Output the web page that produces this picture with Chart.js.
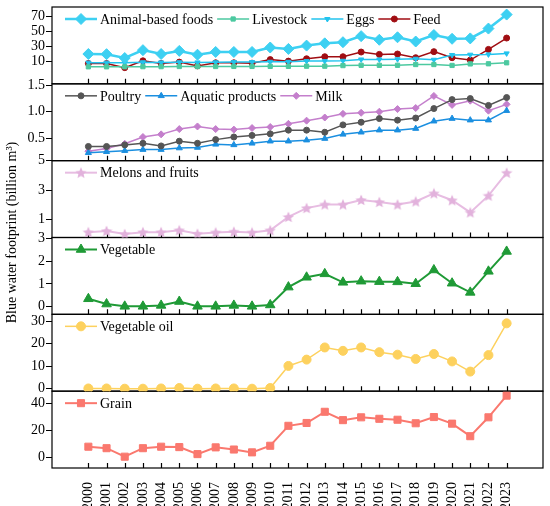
<!DOCTYPE html>
<html>
<head>
<meta charset="utf-8">
<script src="https://cdn.jsdelivr.net/npm/chart.js@4.4.1/dist/chart.umd.min.js"></script>
<style>
  html, body { margin: 0; padding: 0; background: #fff; }
  #wrap { width: 550px; height: 506px; position: relative; }
</style>
</head>
<body>
<div id="wrap"><canvas id="chart"></canvas></div>
<script>
// x categories
const years = [2000, 2001, 2002, 2003, 2004, 2005, 2006, 2007, 2008, 2009, 2010, 2011,
               2012, 2013, 2014, 2015, 2016, 2017, 2018, 2019, 2020, 2021, 2022, 2023];

// panel 1
const animalFoods = [19.9, 19.7, 14.6, 25.0, 19.9, 24.0, 19.0, 22.6, 22.6, 22.6, 28.5, 26.6,
                     31.0, 34.0, 35.5, 43.5, 38.7, 42.0, 36.4, 45.0, 40.0, 40.5, 53.5, 72.0];
const livestock = [3.0, 3.0, 3.0, 3.2, 3.2, 3.4, 3.3, 3.4, 3.5, 3.5, 3.6, 3.6,
                   3.8, 3.8, 4.6, 5.0, 5.0, 5.0, 6.0, 6.0, 4.8, 6.8, 7.0, 8.3];
const eggs = [8.5, 8.5, 8.2, 9.0, 8.8, 9.0, 8.8, 9.0, 9.2, 9.3, 9.6, 9.6,
              10.5, 10.5, 11.0, 12.7, 12.7, 13.0, 13.6, 12.3, 18.6, 19.0, 19.4, 20.7];
const feed = [7.3, 7.3, 1.9, 10.9, 7.3, 9.2, 4.2, 8.3, 8.3, 7.8, 12.5, 10.5,
              13.6, 16.3, 16.3, 22.5, 19.4, 19.9, 15.0, 23.0, 15.0, 11.9, 26.0, 41.0];

// panel 2
const poultry = [0.34, 0.34, 0.37, 0.40, 0.35, 0.44, 0.40, 0.47, 0.52, 0.55, 0.58, 0.65,
                 0.65, 0.61, 0.75, 0.80, 0.87, 0.84, 0.88, 1.06, 1.23, 1.25, 1.12, 1.27];
const aquatic = [0.22, 0.24, 0.26, 0.28, 0.28, 0.31, 0.32, 0.38, 0.37, 0.40, 0.44, 0.44,
                 0.46, 0.49, 0.57, 0.61, 0.65, 0.65, 0.68, 0.82, 0.87, 0.84, 0.84, 1.02];
const milk = [0.25, 0.30, 0.39, 0.52, 0.57, 0.67, 0.72, 0.67, 0.66, 0.69, 0.71, 0.77,
              0.83, 0.89, 0.96, 0.98, 1.00, 1.05, 1.07, 1.30, 1.13, 1.21, 1.02, 1.14];

// panels 3-6
const melons = [0.16, 0.24, 0.03, 0.16, 0.16, 0.29, 0.05, 0.14, 0.19, 0.14, 0.29, 1.19,
                1.79, 2.03, 2.03, 2.34, 2.20, 2.03, 2.24, 2.79, 2.32, 1.50, 2.63, 4.18];
const vegetable = [0.35, 0.12, 0.02, 0.02, 0.06, 0.23, 0.02, 0.02, 0.06, 0.02, 0.08, 0.86,
                   1.29, 1.44, 1.07, 1.12, 1.10, 1.09, 1.01, 1.61, 1.03, 0.63, 1.55, 2.42];
const vegOil = [0.1, 0.1, 0.0, 0.0, 0.1, 0.3, 0.0, 0.1, 0.1, 0.0, 0.3, 10.1,
                12.9, 18.3, 16.8, 18.3, 16.2, 15.1, 13.2, 15.4, 12.1, 7.6, 14.9, 29.0];
const grain = [8.1, 7.0, 0.7, 7.0, 8.1, 7.8, 2.6, 7.6, 6.0, 3.9, 8.8, 23.6,
               25.7, 34.0, 27.8, 29.9, 28.8, 28.1, 25.5, 30.1, 25.2, 15.9, 29.9, 46.0];

// tick labels per panel
const ticksAnimal = [10, 30, 50, 70];
const ticksPoultry = [0.5, 1.0, 1.5];
const ticksMelons = [1, 3, 5];
const ticksVegetable = [0, 1, 2, 3];
const ticksOil = [0, 10, 20, 30];
const ticksGrain = [0, 20, 40];

const yTitle = 'Blue water footprint (billion m\u00b3)';

Chart.defaults.font.family = "'Liberation Serif', 'Times New Roman', serif";
Chart.defaults.font.size = 14;
Chart.defaults.color = '#000';

// filled five-point star marker
function starMarker(color, size) {
    const c = document.createElement('canvas');
    c.width = size; c.height = size;
    const g = c.getContext('2d');
    const r = size / 2, ri = r * 0.45;
    g.fillStyle = color;
    g.beginPath();
    for (let i = 0; i < 10; i++) {
        const a = -Math.PI / 2 + i * Math.PI / 5;
        const rr = i % 2 ? ri : r;
        g.lineTo(r + rr * Math.cos(a), r + rr * Math.sin(a) + 0.5);
    }
    g.closePath();
    g.fill();
    return c;
}

function series(label, values, axis, color, style, radius, width, rotation) {
    return {
        label: label,
        data: values.map((v, i) => ({ x: years[i], y: v })),
        yAxisID: axis,
        borderColor: color,
        backgroundColor: color,
        pointBackgroundColor: color,
        pointBorderColor: color,
        pointBorderWidth: 1,
        borderWidth: width,
        pointStyle: style,
        pointRadius: radius,
        pointRotation: rotation || 0,
        tension: 0
    };
}

// panels from top to bottom
const panels = ['yA', 'yP', 'yM', 'yV', 'yO', 'yG'];

function yScale(min, max, tickList, decimals) {
    return {
        type: 'linear',
        position: 'left',
        stack: 'panels',
        stackWeight: 1,
        min: min,
        max: max,
        border: { display: false },
        grid: { drawOnChartArea: false, tickLength: 6, color: '#000', lineWidth: 1 },
        ticks: {
            autoSkip: false,
            padding: 1,
            callback: v => decimals ? Number(v).toFixed(decimals) : String(v)
        },
        afterBuildTicks: s => { s.ticks = tickList.map(v => ({ value: v })); },
        afterFit: s => { s.width = 52; s.paddingTop = 0; s.paddingBottom = 0; }
    };
}

const panelDecor = {
    id: 'panelDecor',
    beforeDatasetsDraw(chart) {
        const ctx = chart.ctx, area = chart.chartArea, xs = chart.scales.x;
        ctx.save();
        ctx.strokeStyle = '#000';
        ctx.lineWidth = 1.2;
        panels.forEach(id => {
            const s = chart.scales[id];
            ctx.strokeRect(area.left, s.top, area.right - area.left, s.bottom - s.top);
            ctx.beginPath();
            years.forEach(yr => {
                const px = Math.round(xs.getPixelForValue(yr)) + 0.5;
                ctx.moveTo(px, s.bottom);
                ctx.lineTo(px, s.bottom - 5);
            });
            ctx.stroke();
        });
        ctx.restore();
    },
    afterDatasetsDraw(chart) {
        const ctx = chart.ctx, area = chart.chartArea;
        ctx.save();
        ctx.font = "14px 'Liberation Serif', 'Times New Roman', serif";
        ctx.textBaseline = 'middle';
        ctx.textAlign = 'left';
        panels.forEach(id => {
            const s = chart.scales[id];
            let x = area.left + 13;
            const y = s.top + 12;
            chart.data.datasets.filter(ds => ds.yAxisID === id).forEach(ds => {
                ctx.strokeStyle = ds.borderColor;
                ctx.lineWidth = ds.borderWidth;
                ctx.beginPath();
                ctx.moveTo(x, y);
                ctx.lineTo(x + 32, y);
                ctx.stroke();
                ctx.fillStyle = ds.pointBackgroundColor;
                ctx.lineWidth = ds.pointBorderWidth;
                Chart.helpers.drawPoint(ctx, {
                    pointStyle: ds.pointStyle,
                    radius: ds.pointRadius,
                    rotation: ds.pointRotation,
                    borderWidth: ds.pointBorderWidth
                }, x + 16, y);
                ctx.fillStyle = '#000';
                ctx.fillText(ds.label, x + 35, y + 1);
                x += 35 + ctx.measureText(ds.label).width + 4;
            });
        });
        // shared y title
        ctx.translate(12, (area.top + area.bottom) / 2 - 5);
        ctx.rotate(-Math.PI / 2);
        ctx.textAlign = 'center';
        ctx.fillStyle = '#000';
        ctx.fillText(yTitle, 0, 0);
        ctx.restore();
    }
};

new Chart(document.getElementById('chart'), {
    type: 'line',
    data: {
        datasets: [
            series('Animal-based foods', animalFoods, 'yA', '#3dd0f2', 'rectRot', 5.5, 2.5),
            series('Livestock', livestock, 'yA', '#4cc9a0', 'rect', 3, 1.5),
            series('Eggs', eggs, 'yA', '#22c3ee', 'triangle', 3, 1.5, 180),
            series('Feed', feed, 'yA', '#a00d12', 'circle', 3, 1.5),
            series('Poultry', poultry, 'yP', '#555555', 'circle', 3, 1.5),
            series('Aquatic products', aquatic, 'yP', '#1b8fe0', 'triangle', 3.5, 1.5),
            series('Milk', milk, 'yP', '#c47fcc', 'rectRot', 3.5, 1.5),
            series('Melons and fruits', melons, 'yM', '#e7bde2', starMarker('#e2b2dc', 12), 6, 2),
            series('Vegetable', vegetable, 'yV', '#1f9a36', 'triangle', 5.5, 2),
            series('Vegetable oil', vegOil, 'yO', '#fdd15e', 'circle', 4.5, 1.5),
            series('Grain', grain, 'yG', '#fa786e', 'rect', 5, 2)
        ]
    },
    options: {
        responsive: true,
        maintainAspectRatio: false,
        animation: false,
        layout: { padding: { top: 6, right: 7, left: 0, bottom: 0 } },
        plugins: { legend: { display: false }, tooltip: { enabled: false } },
        scales: {
            x: {
                type: 'linear',
                min: 1998,
                max: 2025,
                grid: { display: false },
                border: { display: false },
                ticks: { autoSkip: false, minRotation: 90, maxRotation: 90, padding: 6,
                         callback: v => String(v) },
                afterBuildTicks: s => { s.ticks = years.map(v => ({ value: v })); },
                afterFit: s => { s.height = 38; s.paddingLeft = 0; s.paddingRight = 0; }
            },
            // defined bottom-first: left stacked boxes are placed in reverse order
            yG: yScale(-7.7, 49.3, ticksGrain),
            yO: yScale(-1.1, 33, ticksOil),
            yV: yScale(-0.33, 3.03, ticksVegetable),
            yM: yScale(-0.2, 5, ticksMelons),
            yP: yScale(0.07, 1.53, ticksPoultry, 1),
            yA: yScale(-19.5, 82, ticksAnimal)
        }
    },
    plugins: [panelDecor]
});
</script>
</body>
</html>
